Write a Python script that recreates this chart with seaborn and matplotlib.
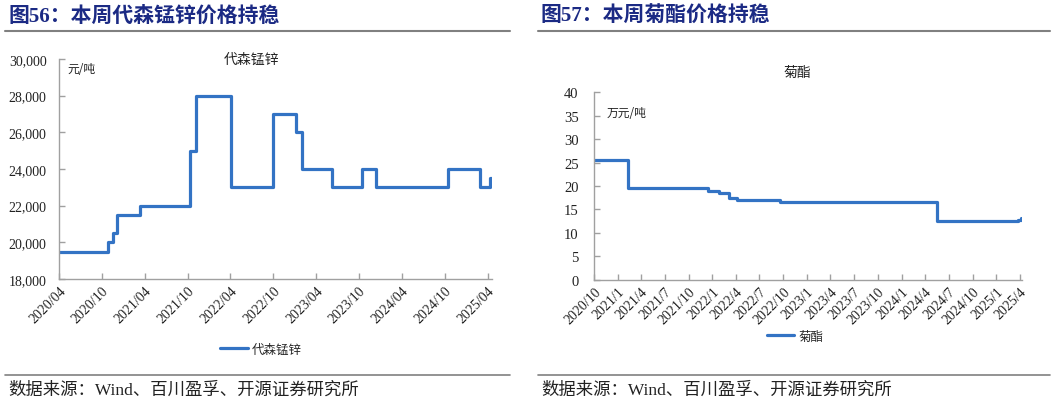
import matplotlib
matplotlib.use("Agg")
import matplotlib.pyplot as plt
from matplotlib.lines import Line2D
import pandas as pd
import seaborn as sns

# 代森锰锌 (元/吨), step changes
dsmx_dates = ["2020-04-01", "2020-10-28", "2020-11-18", "2020-12-06", "2021-03-13",
              "2021-10-13", "2021-11-04", "2022-04-04", "2022-09-28", "2023-01-07",
              "2023-02-01", "2023-06-10", "2023-10-13", "2023-12-13", "2024-10-13",
              "2025-03-01", "2025-04-13", "2025-04-18"]
dsmx_values = [19500, 20000, 20500, 21500, 22000,
               25000, 28000, 23000, 27000, 26000,
               24000, 23000, 24000, 23000, 24000,
               23000, 23500, 23500]
dsmx_ticks = ["2020-04-01", "2020-10-01", "2021-04-01", "2021-10-01", "2022-04-01",
              "2022-10-01", "2023-04-01", "2023-10-01", "2024-04-01", "2024-10-01",
              "2025-04-01"]
dsmx_labels = ["2020/04", "2020/10", "2021/04", "2021/10", "2022/04", "2022/10",
               "2023/04", "2023/10", "2024/04", "2024/10", "2025/04"]

# 菊酯 (万元/吨)
jz_dates = ["2020-10-01", "2021-02-10", "2021-12-15", "2022-01-28", "2022-03-07",
            "2022-04-07", "2022-09-18", "2024-05-18", "2025-03-25", "2025-04-06"]
jz_values = [25.5, 19.5, 19.0, 18.5, 17.5, 17.0, 16.5, 12.5, 12.8, 13.2]
jz_labels = ["2020/10", "2021/1", "2021/4", "2021/7", "2021/10", "2022/1", "2022/4",
             "2022/7", "2022/10", "2023/1", "2023/4", "2023/7", "2023/10", "2024/1",
             "2024/4", "2024/7", "2024/10", "2025/1", "2025/4"]
jz_ticks = pd.date_range("2020-10-01", "2025-04-01", freq="QS-JAN")

sns.set_theme(style="white")
plt.rcParams['font.family'] = ['Liberation Serif', 'Noto Sans CJK SC', 'DejaVu Sans']

blue = "#3373C4"
title_col = "#1B2A84"
grey = "#A0A0A0"
cjk = ['Noto Sans CJK SC', 'DejaVu Sans']
mixed = ['Liberation Serif', 'Noto Sans CJK SC']

fig = plt.figure(figsize=(10.57, 4.06), dpi=100)

# headers / footers
for x0, x1, txt in [(5, 510, "图56：本周代森锰锌价格持稳"), (538, 1050, "图57：本周菊酯价格持稳")]:
    fig.text((x0 + 3) / 1057, 1 - 17 / 406, txt, fontsize=15, fontweight="bold",
             color=title_col, va="center", ha="left", family=mixed)
    fig.add_artist(Line2D([x0 / 1057, x1 / 1057], [1 - 32 / 406] * 2, color="#808080", lw=1.5))
    fig.add_artist(Line2D([x0 / 1057, x1 / 1057], [1 - 376 / 406] * 2, color="#808080", lw=1.2))
    fig.text((x0 + 3) / 1057, 1 - 391 / 406, "数据来源：Wind、百川盈孚、开源证券研究所",
             fontsize=12.5, color="#222222", va="center", ha="left", family=mixed)


def style_axis(ax):
    sns.despine(ax=ax)
    for s in ["left", "bottom"]:
        ax.spines[s].set_color(grey)
        ax.spines[s].set_linewidth(1)
    ax.tick_params(axis="both", direction="in", length=4, color=grey, width=1,
                   labelsize=10, labelcolor="#222222", left=True, bottom=True)
    ax.tick_params(axis="y", pad=9)
    ax.set_xlabel("")
    ax.set_ylabel("")


# left chart
ax1 = fig.add_axes([59 / 1057, 1 - 280 / 406, (492 - 59) / 1057, (280 - 60) / 406])
df1 = pd.DataFrame({"date": pd.to_datetime(dsmx_dates), "value": dsmx_values})
sns.lineplot(data=df1, x="date", y="value", ax=ax1, color=blue, lw=2.3,
             drawstyle="steps-post", estimator=None, label="代森锰锌")
ax1.set_xlim(pd.Timestamp("2020-04-01"), pd.Timestamp("2025-04-20"))
ax1.set_ylim(18000, 30000)
ax1.set_yticks(range(18000, 30001, 2000))
ax1.set_yticklabels([f"{v:,}" for v in range(18000, 30001, 2000)])
ax1.set_xticks(pd.to_datetime(dsmx_ticks))
ax1.set_xticklabels(dsmx_labels, rotation=45, ha="right", rotation_mode="anchor")
style_axis(ax1)
ax1.text(0.445, 1.0, "代森锰锌", transform=ax1.transAxes, family=cjk, fontsize=10,
         ha="center", va="center", color="#222222")
ax1.text(0.02, 0.955, "元/吨", transform=ax1.transAxes, family=cjk, fontsize=8.5,
         ha="left", va="center", color="#222222")
ax1.legend(loc="center", bbox_to_anchor=(261 / 1057, 1 - 350 / 406),
           bbox_transform=fig.transFigure, frameon=False, prop={"family": cjk, "size": 9},
           handlelength=2.2, handletextpad=0.3)

# right chart
ax2 = fig.add_axes([594 / 1057, 1 - 280.7 / 406, (1022 - 594) / 1057, (280.7 - 93.3) / 406])
df2 = pd.DataFrame({"date": pd.to_datetime(jz_dates), "value": jz_values})
sns.lineplot(data=df2, x="date", y="value", ax=ax2, color=blue, lw=2.3,
             drawstyle="steps-post", estimator=None, label="菊酯")
ax2.set_xlim(pd.Timestamp("2020-10-01"), pd.Timestamp("2025-04-10"))
ax2.set_ylim(0, 40)
ax2.set_yticks(range(0, 41, 5))
ax2.set_xticks(jz_ticks)
ax2.set_xticklabels(jz_labels, rotation=45, ha="right", rotation_mode="anchor")
style_axis(ax2)
ax2.tick_params(axis="y", labelsize=10.5, pad=11)
ax2.text(0.475, 1.11, "菊酯", transform=ax2.transAxes, family=cjk, fontsize=10,
         ha="center", va="center", color="#222222")
ax2.text(0.03, 0.89, "万元/吨", transform=ax2.transAxes, family=cjk, fontsize=8.5,
         ha="left", va="center", color="#222222")
ax2.legend(loc="center", bbox_to_anchor=(795 / 1057, 1 - 337 / 406),
           bbox_transform=fig.transFigure, frameon=False, prop={"family": cjk, "size": 9},
           handlelength=2.2, handletextpad=0.3)

fig.savefig("out.png", dpi=100)
